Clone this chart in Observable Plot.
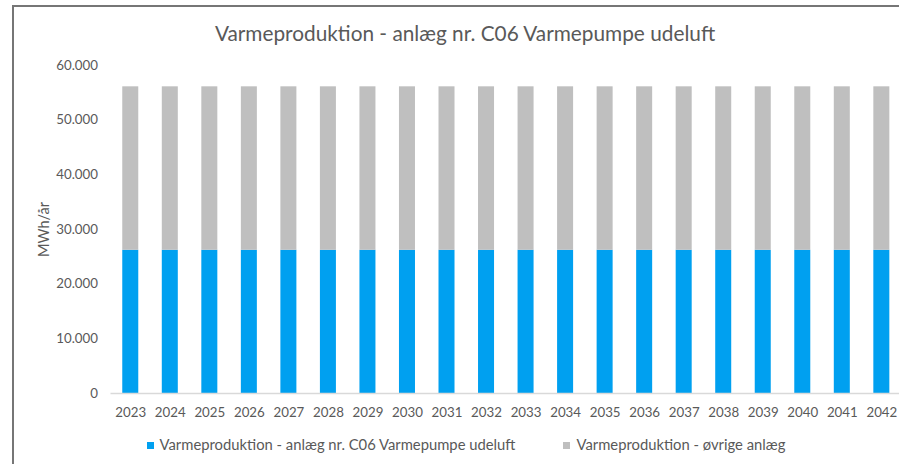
<!DOCTYPE html>
<html>
<head>
<meta charset="utf-8">
<script src="https://cdn.jsdelivr.net/npm/d3@7"></script>
<script src="https://cdn.jsdelivr.net/npm/@observablehq/plot@0.6"></script>
<style>
  html, body { margin: 0; padding: 0; background: #fff; }
  #wrap { position: relative; width: 899px; height: 464px; overflow: hidden; font-family: Lato, "Liberation Sans", sans-serif; color: #595959; }
  #frame { position: absolute; left: 12px; top: 5px; width: 1000px; height: 1000px; border-left: 2px solid #767676; border-top: 2px solid #767676; box-sizing: border-box; }
  #title { position: absolute; left: 0; width: 930px; top: 20px; text-align: center; font-size: 20.8px; line-height: 26px; white-space: nowrap; }
  #chart { position: absolute; left: 0; top: 0; }
  #legend { position: absolute; left: 0; width: 932px; top: 435px; text-align: center; font-size: 14.8px; line-height: 18px; white-space: nowrap; }
  .item { display: inline-block; margin: 0 24px; }
  .sw { display: inline-block; width: 7px; height: 7px; margin-right: 6px; vertical-align: 1px; }
</style>
</head>
<body>
<div id="wrap">
  <div id="frame"></div>
  <div id="chart"></div>
  <div id="title"></div>
  <div id="legend"></div>
</div>
<script>
const years = ["2023","2024","2025","2026","2027","2028","2029","2030","2031","2032","2033","2034","2035","2036","2037","2038","2039","2040","2041","2042"];
const heatPump = [26200,26200,26200,26200,26200,26200,26200,26200,26200,26200,26200,26200,26200,26200,26200,26200,26200,26200,26200,26200];
const otherPlants = [29900,29900,29900,29900,29900,29900,29900,29900,29900,29900,29900,29900,29900,29900,29900,29900,29900,29900,29900,29900];
const seriesNames = ["Varmeproduktion - anlæg nr. C06 Varmepumpe udeluft", "Varmeproduktion - øvrige anlæg"];
const seriesColors = ["#00A0F0", "#BFBFBF"];
const yTicks = [0, 10000, 20000, 30000, 40000, 50000, 60000];
const titleText = "Varmeproduktion - anlæg nr. C06 Varmepumpe udeluft";
const yLabel = "MWh/år";

const rows = [];
years.forEach((y, i) => {
  rows.push({year: y, series: seriesNames[0], value: heatPump[i]});
  rows.push({year: y, series: seriesNames[1], value: otherPlants[i]});
});

const fmt = d => d === 0 ? "0" : d3.format(",")(d).replace(/,/g, ".");

const chart = Plot.plot({
  width: 899,
  height: 464,
  marginTop: 65,
  marginBottom: 71,
  marginLeft: 110.5,
  marginRight: 0,
  style: {fontFamily: "Lato, 'Liberation Sans', sans-serif", fontSize: "13.3px", color: "#595959", background: "transparent", overflow: "visible"},
  x: {domain: years, range: [110.5, 901.1], paddingInner: 0.595, paddingOuter: 0.2975, align: 0.5, round: false},
  y: {domain: [0, 60000]},
  color: {domain: seriesNames, range: seriesColors},
  marks: [
    Plot.gridY(yTicks, {stroke: "#D9D9D9", strokeOpacity: 1, strokeWidth: 1, x1: 110.5, x2: 901}),
    Plot.barY(rows, Plot.stackY({x: "year", y: "value", fill: "series", order: seriesNames})),
    Plot.ruleY([0], {stroke: "#D9D9D9", strokeWidth: 1.3}),
    Plot.axisY({ticks: yTicks, tickFormat: fmt, tickSize: 0, tickPadding: 13, fill: "#595959", fontSize: 13.3, label: yLabel, labelAnchor: "center", labelArrow: "none", labelOffset: 72}),
    Plot.axisX({tickSize: 0, tickPadding: 14, fill: "#595959", fontSize: 13.3, label: null})
  ]
});
d3.select(chart).selectAll('g[aria-label="y-axis label"]').attr("font-size", 14.5);
document.getElementById("chart").appendChild(chart);
document.getElementById("title").textContent = titleText;

const legend = document.getElementById("legend");
seriesNames.forEach((n, i) => {
  const it = document.createElement("span");
  it.className = "item";
  const sw = document.createElement("span");
  sw.className = "sw";
  sw.style.background = seriesColors[i];
  it.appendChild(sw);
  it.appendChild(document.createTextNode(n));
  legend.appendChild(it);
});
</script>
</body>
</html>
